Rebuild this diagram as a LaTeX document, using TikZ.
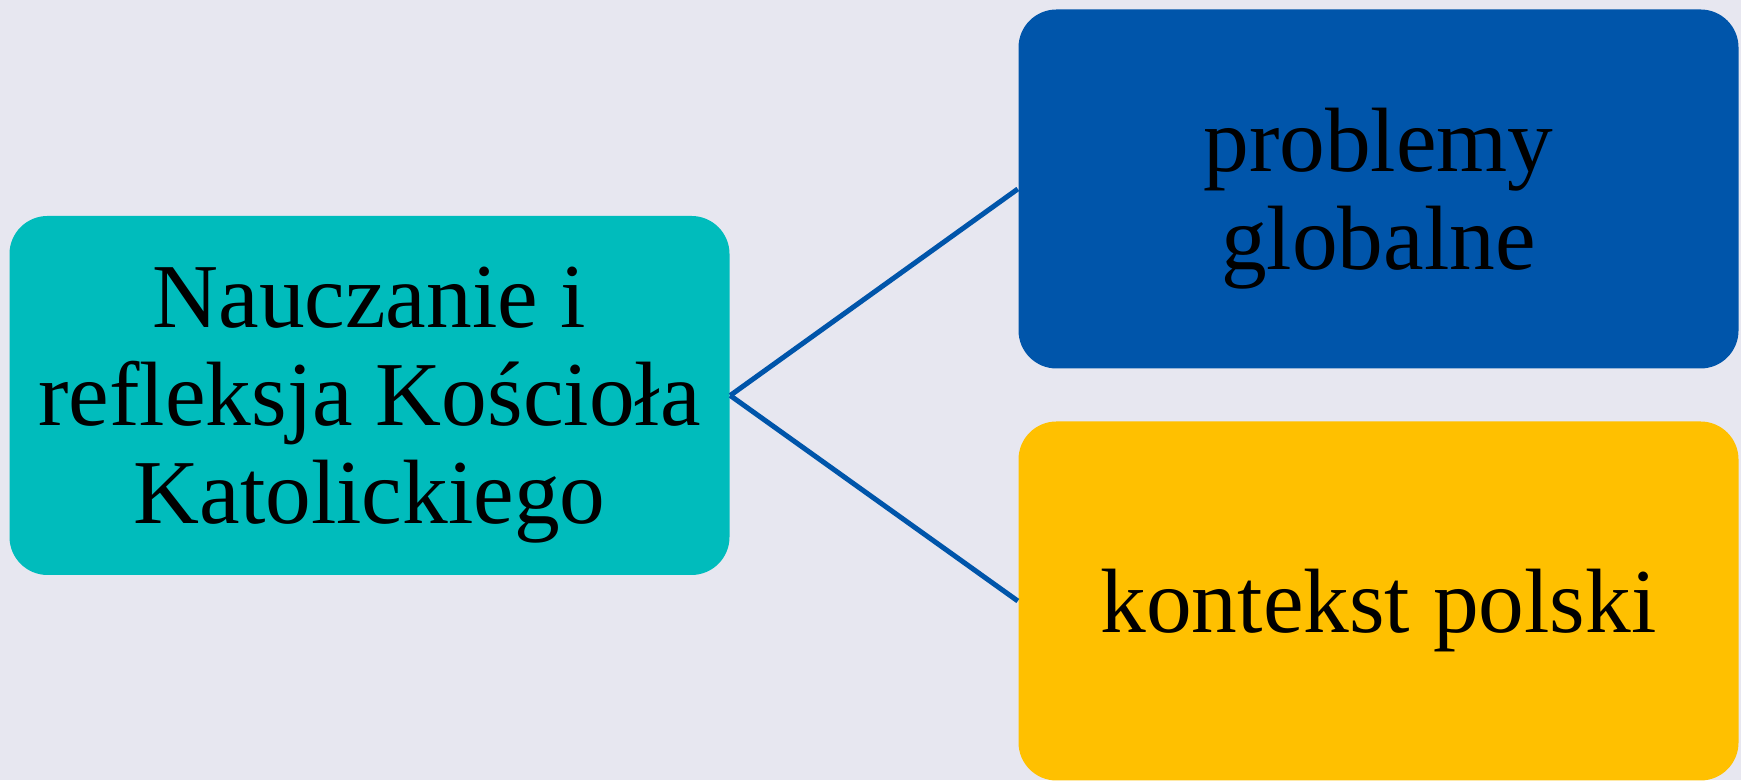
\documentclass[tikz,border=0pt]{standalone}
\usepackage{fontspec}
\setmainfont{Liberation Serif}
\definecolor{bgcol}{HTML}{E7E7F0}
\definecolor{tealbox}{HTML}{00BCBC}
\definecolor{bluebox}{HTML}{0055AA}
\definecolor{yellowbox}{HTML}{FFC000}

\begin{document}
\begin{tikzpicture}[auto,
    topic/.style ={rectangle, rounded corners=0.38cm, minimum width=7.2cm,
      minimum height=3.59cm, align=center, inner sep=0pt, text depth=0pt,
      font=\fontsize{26pt}{27.9pt}\selectfont},
    link/.style ={line width=0.05cm, bluebox}]
   \fill[bgcol] (0,0) rectangle (17.41,7.8);
   \node[topic,fill=tealbox] (A)  at (3.695,3.845)  {Nauczanie i\\refleksja Kościoła\\Katolickiego};
   \node[topic,fill=bluebox] (B)  at (13.785,5.91)  {problemy\\globalne};
   \node[topic,fill=yellowbox] (C)  at (13.785,1.79)  {kontekst polski};

   \draw[link] (A.east) to (B.west);
   \draw[link] (A.east) to (C.west);
 \end{tikzpicture}
\end{document}
